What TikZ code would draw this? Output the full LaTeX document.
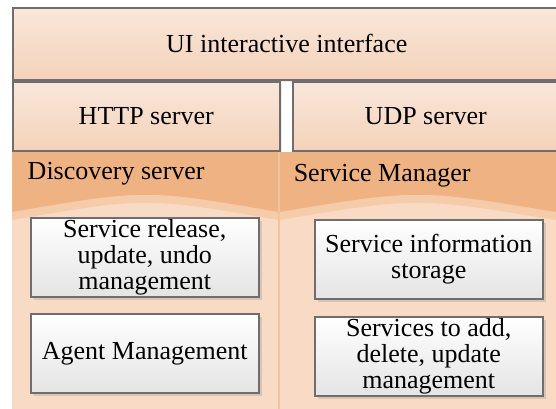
\documentclass[tikz,border=0pt]{standalone}
\usepackage{fontspec}
\setmainfont{Liberation Serif}
\usepackage{xcolor}
\usetikzlibrary{shadows}

\definecolor{peachtop}{HTML}{F9E7DB}
\definecolor{peachbot}{HTML}{F4D2B9}
\definecolor{panelhead}{HTML}{EFB283}
\definecolor{panelglow}{HTML}{F5CBAA}
\definecolor{panelbody}{HTML}{F8DAC5}
\definecolor{paneledge}{HTML}{F1C39F}
\definecolor{framegray}{HTML}{6E6E6E}
\definecolor{itembot}{HTML}{E4E4E4}

\begin{document}
\begin{tikzpicture}[x=0.5pt, y=-0.5pt, line width=0.75pt,
    every node/.style={font=\fontsize{13}{13.2}\selectfont},
    tier/.style={draw=framegray, top color=peachtop, bottom color=peachbot,
        anchor=north west, inner sep=0pt,
        drop shadow={shadow xshift=1pt, shadow yshift=-1pt, opacity=0.15}},
    item/.style={draw=framegray, top color=white, bottom color=itembot,
        anchor=north west, align=center, inner sep=0pt,
        minimum width=114pt, minimum height=39.5pt,
        drop shadow={shadow xshift=1.5pt, shadow yshift=-1.5pt, opacity=0.25}},
    title/.style={anchor=west, inner sep=0pt}]
    \clip (0,0) rectangle (556,408);
    \fill[white] (0,0) rectangle (556,408);

    % Top layers
    \node[tier, minimum width=274pt, minimum height=36pt] (ui) at (12,7) {UI interactive interface};
    \node[tier, minimum width=133.5pt, minimum height=34.5pt] (http) at (12,81) {HTTP server};
    \node[tier, minimum width=133pt, minimum height=34.5pt] (udp) at (292,81) {UDP server};

    % Panels
    \fill[panelbody] (12,152) rectangle (560,410);
    \fill[panelglow] (12,152) -- (12,220) .. controls (145.5,197) .. (279,220)
        .. controls (417.5,197) .. (556,220) -- (560,220) -- (560,152) -- cycle;
    \fill[panelhead] (12,152) -- (12,212) .. controls (145.5,189) .. (279,212)
        .. controls (417.5,189) .. (556,212) -- (560,212) -- (560,152) -- cycle;
    \draw[paneledge] (279,152) -- (279,410);
    \node[title] (disc) at (27,174) {Discovery server};
    \node[title] (mgr) at (293,176) {Service Manager};

    % Discovery server items
    \node[item] (release) at (30,217) {Service release,\\update, undo\\management};
    \node[item] (agent) at (30,313) {Agent Management};

    % Service Manager items
    \node[item] (storage) at (314,219) {Service information\\storage};
    \node[item] (modify) at (314,316) {Services to add,\\delete, update\\management};
\end{tikzpicture}
\end{document}
